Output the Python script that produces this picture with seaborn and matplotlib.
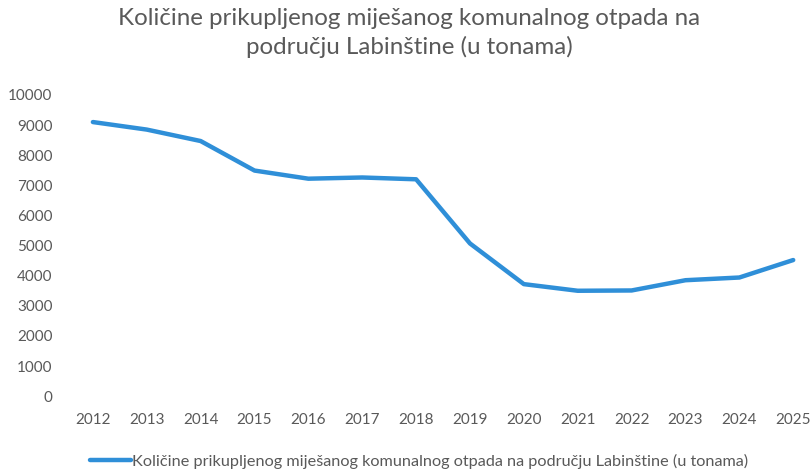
import pandas as pd
import seaborn as sns
import matplotlib.pyplot as plt

# data
years = [2012, 2013, 2014, 2015, 2016, 2017, 2018, 2019, 2020, 2021, 2022, 2023, 2024, 2025]
tonnes = [9100, 8850, 8470, 7490, 7220, 7260, 7200, 5070, 3720, 3500, 3510, 3850, 3940, 4520]
label = "Količine prikupljenog miješanog komunalnog otpada na području Labinštine (u tonama)"
title = "Količine prikupljenog miješanog komunalnog otpada na\npodručju Labinštine (u tonama)"

df = pd.DataFrame({"Godina": years, "Tona": tonnes})

sns.set_theme(style="white")
plt.rcParams["font.family"] = ["Lato", "DejaVu Sans"]
grey = "#595959"

fig = plt.figure(figsize=(8.11, 4.70), dpi=100)
ax = fig.add_axes([0.08, 0.157, 0.92, 0.641])

sns.lineplot(data=df, x="Godina", y="Tona", color="#2f8fd8", linewidth=3.2,
             label=label, ax=ax)

ax.set_xlim(2011.48, 2025.33)
ax.set_ylim(0, 10000)
ax.set_xticks(years)
ax.set_yticks(range(0, 10001, 1000))
ax.set_xlabel("")
ax.set_ylabel("")
sns.despine(ax=ax, left=True, bottom=True)
ax.tick_params(axis="x", colors=grey, labelsize=11, pad=12, length=0)
ax.tick_params(axis="y", colors=grey, labelsize=11, pad=9, length=0)

ax.get_legend().remove()
handles, labels = ax.get_legend_handles_labels()
fig.legend(handles, labels, loc="center", bbox_to_anchor=(0.517, 0.019),
           frameon=False, fontsize=11.7, labelcolor=grey,
           handlelength=2.5, handletextpad=0.1)

fig.text(0.505, 0.983, title, ha="center", va="top", fontsize=17.4,
         color=grey, linespacing=1.4)

fig.savefig("out.png", dpi=100)
